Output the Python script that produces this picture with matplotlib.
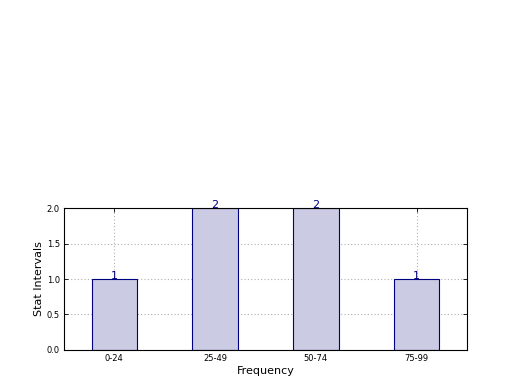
import matplotlib
matplotlib.use("Agg")
from matplotlib import pyplot as plt

# Data
intervals = ["0-24", "25-49", "50-74", "75-99"]
counts = [1, 2, 2, 1]

fig = plt.figure(figsize=(5.2, 3.9), dpi=100)
ax = fig.add_axes([0.123, 0.1026, 0.775, 0.364])

xs = list(range(len(intervals)))
bars = ax.bar(xs, counts, width=0.45, color="#cbcbe3", edgecolor="#000080", linewidth=0.8, zorder=2)

# Value labels on top of bars
for x, c in zip(xs, counts):
    ax.annotate(str(c), (x, c), xytext=(0, -1.2), textcoords="offset points",
                ha="center", va="bottom", fontsize=8, color="#000080", zorder=5)

ax.set_xlim(-0.5, 3.5)
ax.set_ylim(0, 2.0)
ax.set_xticks(xs)
ax.set_xticklabels(intervals, fontsize=6)
ax.set_yticks([0.0, 0.5, 1.0, 1.5, 2.0])
ax.set_yticklabels(["0.0", "0.5", "1.0", "1.5", "2.0"], fontsize=6)
ax.tick_params(direction="in", top=True, right=True, length=3, width=0.6, pad=3)
ax.grid(True, linestyle=(0, (1, 2)), color="#b0b0b0", linewidth=0.8, zorder=3)
for s in ax.spines.values():
    s.set_linewidth(0.8)
    s.set_zorder(4)

ax.set_xlabel("Frequency", fontsize=8, labelpad=2)
ax.set_ylabel("Stat Intervals", fontsize=8, labelpad=2)

fig.savefig("out.png", dpi=100)
